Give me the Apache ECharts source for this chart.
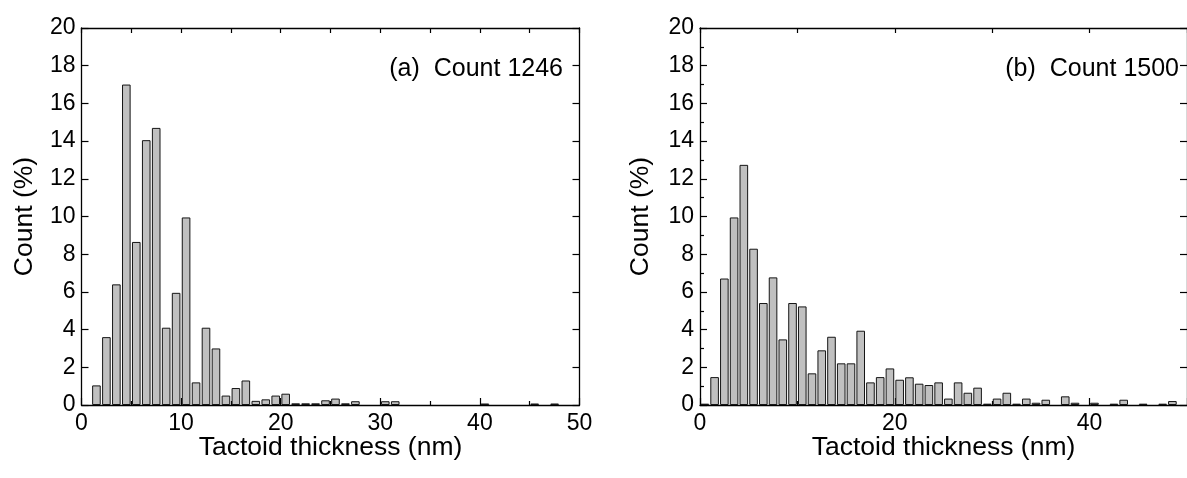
<!DOCTYPE html>
<html><head><meta charset="utf-8">
<script src="https://cdn.jsdelivr.net/npm/echarts@6/dist/echarts.min.js"></script>
<style>html,body{margin:0;padding:0;background:#fff;overflow:hidden}#c{width:1187px;height:478px}</style>
</head><body><div id="c"></div>
<script>
// (a) Count 1246 — bin centres (nm) and percentages
const binsA = [1.5,2.5,3.5,4.5,5.5,6.5,7.5,8.5,9.5,10.5,11.5,12.5,13.5,14.5,15.5,16.5,17.5,18.5,19.5,20.5,21.5,22.5,23.5,24.5,25.5,26.5,27.5,30.5,31.5,40.5,45.5,47.5];
const countA = [1.04,3.6,6.4,17.0,8.65,14.05,14.7,4.1,5.95,9.95,1.2,4.1,3.0,0.5,0.9,1.3,0.22,0.3,0.5,0.6,0.09,0.09,0.09,0.25,0.34,0.09,0.2,0.2,0.2,0.08,0.08,0.08];
// (b) Count 1500
const binsB = [0.5,1.5,2.5,3.5,4.5,5.5,6.5,7.5,8.5,9.5,10.5,11.5,12.5,13.5,14.5,15.5,16.5,17.5,18.5,19.5,20.5,21.5,22.5,23.5,24.5,25.5,26.5,27.5,28.5,29.5,30.5,31.5,32.5,33.5,34.5,35.5,37.5,38.5,40.5,42.5,43.5,45.5,47.5,48.5];
const countB = [0.07,1.48,6.71,9.95,12.74,8.29,5.41,6.77,3.48,5.41,5.23,1.68,2.9,3.62,2.21,2.21,3.94,1.2,1.48,1.94,1.34,1.47,1.13,1.06,1.2,0.34,1.2,0.65,0.92,0.07,0.34,0.65,0.07,0.34,0.12,0.28,0.46,0.12,0.12,0.07,0.28,0.07,0.07,0.21];
const xName = 'Tactoid thickness (nm)';
const yName = 'Count (%)';
const labelA = '(a)  Count 1246';
const labelB = '(b)  Count 1500';

const FONT = '"Liberation Sans", Arial, Helvetica, sans-serif';
const BLACK = '#000';
const line = {show:true, onZero:false, lineStyle:{color:BLACK, width:1.3}};
const noSplit = {show:false};

function xAxisBottom(g, interval, minorSplit, showMax){
  return {type:'value', gridIndex:g, position:'bottom', min:0, max:50, interval:interval,
    name:xName, nameLocation:'middle', nameGap:29, nameMoveOverlap:false,
    nameTextStyle:{fontFamily:FONT, fontSize:26.5, color:BLACK},
    axisLine:line,
    axisTick:{show:true, inside:true, length:7, lineStyle:{color:BLACK, width:1.2}},
    minorTick:{show:true, splitNumber:minorSplit, length:4, lineStyle:{color:BLACK, width:1.2}},
    axisLabel:{fontFamily:FONT, fontSize:23, color:BLACK, margin:7, showMaxLabel:showMax},
    splitLine:noSplit, minorSplitLine:noSplit};
}
function xAxisTop(g, interval){
  return {type:'value', gridIndex:g, position:'top', min:0, max:50, interval:interval,
    axisLine:line,
    axisTick:{show:true, inside:true, length:5, lineStyle:{color:BLACK, width:1.2}},
    axisLabel:{show:false}, splitLine:noSplit};
}
function yAxisLeft(g, minor, gap){
  return {type:'value', gridIndex:g, position:'left', min:0, max:20, interval:2,
    name:yName, nameLocation:'middle', nameGap:gap, nameMoveOverlap:false,
    nameTextStyle:{fontFamily:FONT, fontSize:26.5, color:BLACK},
    axisLine:line,
    axisTick:{show:true, inside:true, length:7, lineStyle:{color:BLACK, width:1.2}},
    minorTick:{show:minor, splitNumber:2, length:4, lineStyle:{color:BLACK, width:1.2}},
    axisLabel:{fontFamily:FONT, fontSize:23, color:BLACK, margin:6},
    splitLine:noSplit, minorSplitLine:noSplit};
}
function yAxisRight(g){
  return {type:'value', gridIndex:g, position:'right', min:0, max:20, interval:2,
    axisLine:line,
    axisTick:{show:true, inside:true, length:7, lineStyle:{color:BLACK, width:1.2}},
    axisLabel:{show:false}, splitLine:noSplit};
}
const barStyle = {color:'#c0c0c0', borderColor:'#151515', borderWidth:1};

const chart = echarts.init(document.getElementById('c'), null, {renderer:'canvas'});
chart.setOption({
  animation:false,
  backgroundColor:'#fff',
  grid:[
    {left:81.5, top:28, width:498, height:377, containLabel:false},
    {left:700, top:28, width:497.5, height:377, containLabel:false}
  ],
  xAxis:[xAxisBottom(0,10,2,true), xAxisTop(0,5), xAxisBottom(1,20,2,false), xAxisTop(1,10)],
  yAxis:[yAxisLeft(0,false,43), yAxisRight(0), yAxisLeft(1,true,46), yAxisRight(1)],
  series:[
    {type:'bar', xAxisIndex:0, yAxisIndex:0, barWidth:8.6, silent:true,
     data:binsA.map((b,i)=>[b,countA[i]]), itemStyle:barStyle},
    {type:'bar', xAxisIndex:2, yAxisIndex:2, barWidth:8.6, silent:true,
     data:binsB.map((b,i)=>[b,countB[i]]), itemStyle:barStyle}
  ],
  graphic:[
    {type:'text', x:563, y:69, style:{text:labelA, fontFamily:FONT, fontSize:25, fill:BLACK, align:'right', verticalAlign:'middle'}},
    {type:'text', x:1179, y:69, style:{text:labelB, fontFamily:FONT, fontSize:25, fill:BLACK, align:'right', verticalAlign:'middle'}}
  ]
});
</script></body></html>
